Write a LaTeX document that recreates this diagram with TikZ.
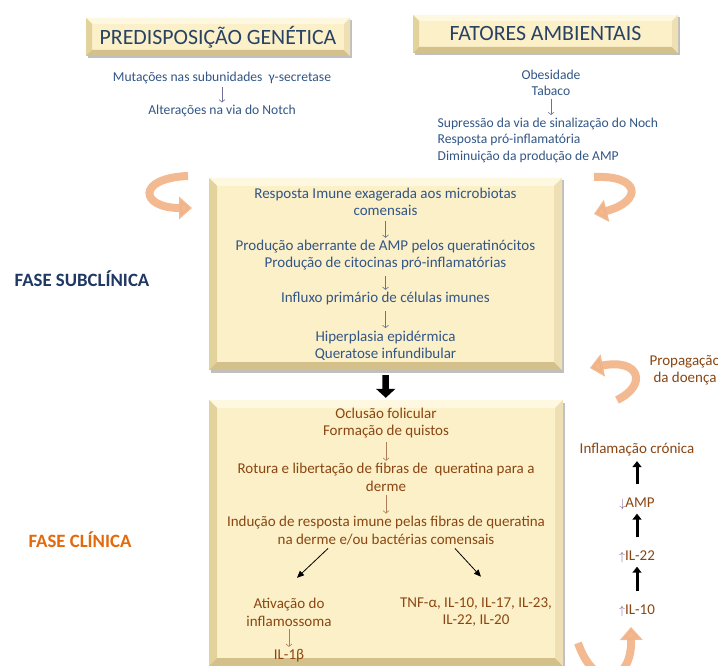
\documentclass[tikz,border=0pt]{standalone}
\usepackage{fontspec}
\setmainfont{Carlito}
\usetikzlibrary{positioning,arrows.meta,shadows}

\definecolor{cream}{RGB}{252,240,200}
\definecolor{bvtop}{RGB}{254,248,224}
\definecolor{bvleft}{RGB}{226,210,156}
\definecolor{bvbot}{RGB}{212,192,138}
\definecolor{bvright}{RGB}{238,224,180}
\definecolor{headc}{RGB}{40,66,100}
\definecolor{bluet}{RGB}{50,86,134}
\definecolor{brownt}{RGB}{138,70,18}
\definecolor{navy}{RGB}{31,56,100}
\definecolor{orng}{RGB}{226,106,12}
\definecolor{peach}{RGB}{242,178,134}
\definecolor{arrg}{RGB}{112,112,150}
\definecolor{arrp}{RGB}{128,92,150}

\begin{document}
\begin{tikzpicture}[x=1pt,y=-1pt]
\tikzset{bevel/.style={fill=cream,inner sep=0pt,
  drop shadow={shadow xshift=2pt,shadow yshift=-2.5pt,fill=black!45,opacity=.55},
  path picture={
   \coordinate (pnw) at (path picture bounding box.north west);
   \coordinate (pne) at (path picture bounding box.north east);
   \coordinate (psw) at (path picture bounding box.south west);
   \coordinate (pse) at (path picture bounding box.south east);
   \fill[bvtop] (pnw) -- (pne) -- ([shift={(-#1,-#1)}]pne) -- ([shift={(#1,-#1)}]pnw) -- cycle;
   \fill[bvleft] (pnw) -- ([shift={(#1,-#1)}]pnw) -- ([shift={(#1,#1)}]psw) -- (psw) -- cycle;
   \fill[bvbot] (psw) -- (pse) -- ([shift={(-#1,#1)}]pse) -- ([shift={(#1,#1)}]psw) -- cycle;
   \fill[bvright] (pne) -- (pse) -- ([shift={(-#1,#1)}]pse) -- ([shift={(-#1,-#1)}]pne) -- cycle;
  }}}
\tikzset{head/.style={text=headc,font=\fontsize{21.8}{24}\selectfont}}
\tikzset{bt/.style={text=bluet,align=center,inner sep=1.5pt,font=\fontsize{15}{17}\selectfont}}
\tikzset{st/.style={text=bluet,align=center,inner sep=1.5pt,font=\fontsize{13.6}{16.5}\selectfont}}
\tikzset{br/.style={text=brownt,align=center,inner sep=1.5pt,font=\fontsize{15}{17.5}\selectfont}}
\tikzset{dn/.style={draw=arrg,line width=.6pt,shorten <=4pt,shorten >=1pt,-{Straight Barb[length=2.5pt,width=6pt]}}}
\tikzset{blk/.style={line width=6.5pt,-{Triangle[width=19pt,length=9pt]}}}
\tikzset{upar/.style={line width=3pt,-{Triangle[width=9pt,length=6pt]}}}
\tikzset{curl/.style={draw=peach,line width=8pt,opacity=.9,-{Triangle[width=22pt,length=13pt]}}}

  \clip (0,0) rectangle (718,666);
  \fill[white] (0,0) rectangle (718,666);

  % cabecalhos
  \node[bevel=6pt,minimum width=264pt,minimum height=38pt,head] (gen) at (218,37) {PREDISPOSIÇÃO GENÉTICA};
  \node[bevel=6pt,minimum width=265pt,minimum height=38pt,head] (amb) at (545.5,34) {FATORES AMBIENTAIS};

  \node[st] (mut) at (222,78) {Mutações nas subunidades \ γ-secretase};
  \node[st] (alt) at (222,111) {Alterações na via do Notch};
  \draw[dn,shorten <=1pt] (mut) -- (alt);

  \node[st] (obe) at (551,83) {Obesidade\\Tabaco};
  \node[st,align=left,anchor=north west] (sup) at (436,116) {Supressão da via de sinalização do Noch\\Resposta pró-inflamatória\\Diminuição da produção de AMP};
  \draw[dn,shorten <=1pt] (obe) -- (obe |- sup.north);

  % fase subclinica
  \node[bevel=8pt,minimum width=353pt,minimum height=192pt] (sub) at (385.5,274) {};
  \node[bt] (s1) at (385.5,201.5) {Resposta Imune exagerada aos microbiotas\\comensais};
  \node[bt] (s2) at (385.5,255.5) {Produção aberrante de AMP pelos queratinócitos\\Produção de citocinas pró-inflamatórias};
  \node[bt] (s3) at (385.5,299) {Influxo primário de células imunes};
  \node[bt] (s4) at (385.5,345.5) {Hiperplasia epidérmica\\Queratose infundibular};
  \draw[dn] (s1) -- (s2);
  \draw[dn] (s2) -- (s3);
  \draw[dn] (s3) -- (s4);

  \node[text=navy,font=\fontsize{18.8}{20}\selectfont\bfseries] (fsub) at (82,279) {FASE SUBCLÍNICA};

  % fase clinica
  \node[bevel=8pt,minimum width=354pt,minimum height=266pt] (clin) at (386,533) {};
  \draw[blk,shorten <=5pt,shorten >=2pt] (sub) -- (clin);
  \node[br] (c1) at (386,423) {Oclusão folicular\\Formação de quistos};
  \node[br] (c2) at (386,477.5) {Rotura e libertação de fibras de \ queratina para a\\derme};
  \node[br] (c3) at (386,530.5) {Indução de resposta imune pelas fibras de queratina\\na derme e/ou bactérias comensais};
  \node[br] (c4) at (289,612.5) {Ativação do\\inflamossoma};
  \node[br] (c5) at (289,656) {IL-1β};
  \node[br] (c6) at (476,612) {TNF-α, IL-10, IL-17, IL-23,\\IL-22, IL-20};
  \draw[dn,draw=brownt!70,shorten <=2pt] (c1) -- (c2);
  \draw[dn,draw=brownt!70,shorten <=2pt] (c2) -- (c3);
  \draw[dn,draw=brownt!70,shorten <=1pt] (c4) -- (c5);
  \draw[line width=.8pt,-{Triangle[length=7pt,width=6pt]}] ([xshift=-58pt,yshift=-2pt]c3.south) -- ([xshift=8pt,yshift=19pt]c4.north);
  \draw[line width=.8pt,-{Triangle[length=7pt,width=6pt]}] ([xshift=69pt,yshift=-2pt]c3.south) -- ([xshift=5pt,yshift=19pt]c6.north);

  \node[text=orng,font=\fontsize{18.8}{20}\selectfont\bfseries] (fcli) at (80,540) {FASE CLÍNICA};

  % coluna direita
  \node[br] (inf) at (637,450) {Inflamação crónica};
  \node[br] (amp) at (637,504) {{\color{arrp}\large$\downarrow$}AMP};
  \node[br] (i22) at (637,557) {{\color{arrp}\large$\uparrow$}IL-22};
  \node[br] (i10) at (637,611) {{\color{arrp}\large$\uparrow$}IL-10};
  \draw[upar,shorten <=12pt,shorten >=3pt] (amp) -- (inf);
  \draw[upar,shorten <=12pt,shorten >=2pt] (i22) -- (amp);
  \draw[upar,shorten <=12pt,shorten >=2pt] (i10) -- (i22);

  \node[br] (prop) at (685,370) {Propagação\\da doença};

  % setas curvas
  \draw[curl] (188,176) .. controls (136,178) and (140,208) .. (192,208);
  \draw[curl] (594,177) .. controls (642,175) and (642,202) .. (594,214);
  \draw[curl] (617,400) .. controls (648,385) and (640,358) .. (590,368);
  \draw[curl] (578,643) .. controls (595,692) and (632,684) .. (631,627);
\end{tikzpicture}
\end{document}
